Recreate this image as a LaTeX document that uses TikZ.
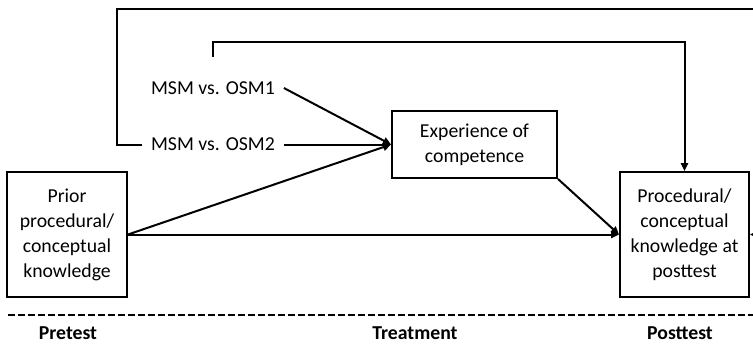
\documentclass[tikz,border=0pt]{standalone}
\usepackage{fontspec}
\setmainfont{Carlito}
\usetikzlibrary{arrows.meta,positioning}

\begin{document}
\begin{tikzpicture}[
    x=0.75pt, y=-0.75pt,
    line width=1.5pt,
    >={Triangle[length=6pt,width=5.5pt]},
    every node/.style={
        font=\fontsize{14.8}{18.75}\selectfont
    },
    box/.style={
        draw,
        align=center,
        inner sep=2pt
    },
    cond/.style={
        inner xsep=6pt
    },
    phase/.style={
        font=\fontsize{14.8}{18.75}\selectfont\bfseries
    }
]
\useasboundingbox (0,0) rectangle (753,344);

% Boxes
\node[box, minimum width=90pt, minimum height=93.75pt] (prior) at (67,234.5) {Prior\\procedural/\\conceptual\\knowledge};
\node[box, minimum width=123.75pt, minimum height=50.25pt] (exper) at (474.5,144.5) {Experience of\\competence};
\node[box, minimum width=96.75pt, minimum height=93.75pt] (post) at (684.5,234.5) {Procedural/\\conceptual\\knowledge at\\posttest};

% Conditions
\node[cond] (osm1) at (213,88) {MSM vs. OSM1};
\node[cond] (osm2) at (213,144.5) {MSM vs. OSM2};
\coordinate (osm1top) at (213,57);

% Paths
\draw[->] (osm1.east) -- (exper.west);
\draw[->] (osm2.east) -- (exper.west);
\draw[->] (prior.east) -- (exper.west);
\draw[->] (prior.east) -- (post.west);
\draw[->] (exper.south east) -- (post.west);
\draw[->] (osm1top) -- (213,42) -| (post.north);
\draw[->] (osm2.west) -| (117,9) -| (800,234.5) -- (post.east);

% Phases
\draw[dashed, dash pattern=on 5pt off 2.5pt] (8,315) -- (753,315);
\node[phase] (pre) at (68,333) {Pretest};
\node[phase] (treat) at (415,333) {Treatment};
\node[phase] (postt) at (680,333) {Posttest};

\end{tikzpicture}
\end{document}
